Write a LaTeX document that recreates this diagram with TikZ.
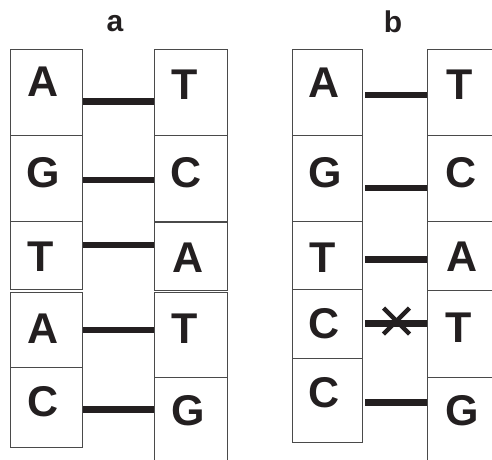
\documentclass[tikz,border=0pt]{standalone}
\usepackage{fontspec}
\setmainfont{Liberation Sans}
\definecolor{ink}{HTML}{231F20}
\definecolor{edge}{HTML}{4A4A4A}
\tikzset{
  cell/.style={draw=edge, line width=1.1pt, rectangle, inner sep=0pt, anchor=north west},
  base/.style={text=ink, inner sep=0pt, anchor=base, font=\fontsize{43}{43}\selectfont\bfseries},
  panel/.style={text=ink, inner sep=0pt, anchor=base, font=\fontsize{30}{30}\selectfont\bfseries},
  bond/.style={draw=ink, line width=6.5pt},
  bondb/.style={bond, shorten <=2pt},
  cut/.style={draw=ink, line width=4.5pt}
}
\begin{document}
\begin{tikzpicture}[x=1pt,y=-1pt]
\useasboundingbox (0,0) rectangle (492,459);
\clip (0,0) rectangle (492,459);

% panel labels
\node[panel] (pa) at (115,31) {a};
\node[panel] (pb) at (393,32) {b};

% ---- strand cells, panel a ----
\node[cell, minimum width=72pt, minimum height=86pt] (la1) at (10,49) {};
\node[cell, minimum width=72pt, minimum height=86pt] (la2) at (10,135) {};
\node[cell, minimum width=72pt, minimum height=68pt] (la3) at (10,221) {};
\node[cell, minimum width=72pt, minimum height=75pt] (la4) at (10,292) {};
\node[cell, minimum width=72pt, minimum height=80pt] (la5) at (10,367) {};

\node[cell, minimum width=73pt, minimum height=86pt] (ra1) at (154,49) {};
\node[cell, minimum width=73pt, minimum height=86pt] (ra2) at (154,135) {};
\node[cell, minimum width=73pt, minimum height=68pt] (ra3) at (154,222) {};
\node[cell, minimum width=73pt, minimum height=85pt] (ra4) at (154,292) {};
\node[cell, minimum width=73pt, minimum height=100pt] (ra5) at (154,377) {};

% ---- strand cells, panel b ----
\node[cell, minimum width=70pt, minimum height=86pt] (lb1) at (292,49) {};
\node[cell, minimum width=70pt, minimum height=86pt] (lb2) at (292,135) {};
\node[cell, minimum width=70pt, minimum height=68pt] (lb3) at (292,221) {};
\node[cell, minimum width=70pt, minimum height=69pt] (lb4) at (292,289) {};
\node[cell, minimum width=70pt, minimum height=84pt] (lb5) at (292,358) {};

\node[cell, minimum width=90pt, minimum height=86pt] (rb1) at (427,49) {};
\node[cell, minimum width=90pt, minimum height=86pt] (rb2) at (427,135) {};
\node[cell, minimum width=90pt, minimum height=69pt] (rb3) at (427,221) {};
\node[cell, minimum width=90pt, minimum height=87pt] (rb4) at (427,290) {};
\node[cell, minimum width=90pt, minimum height=100pt] (rb5) at (427,377) {};

% ---- bases, panel a ----
\node[base] (ta1) at (43,96) {A};
\node[base] (ta2) at (43,187) {G};
\node[base] (ta3) at (41,271) {T};
\node[base] (ta4) at (43,343) {A};
\node[base] (ta5) at (43,416) {C};

\node[base] (sa1) at (185,99) {T};
\node[base] (sa2) at (186,187) {C};
\node[base] (sa3) at (188,272) {A};
\node[base] (sa4) at (185,343) {T};
\node[base] (sa5) at (188,425) {G};

% ---- bases, panel b ----
\node[base] (tb1) at (324,97) {A};
\node[base] (tb2) at (325,187) {G};
\node[base] (tb3) at (323,272) {T};
\node[base] (tb4) at (324,338) {C};
\node[base] (tb5) at (324,407) {C};

\node[base] (sb1) at (460,99) {T};
\node[base] (sb2) at (461,187) {C};
\node[base] (sb3) at (462,271) {A};
\node[base] (sb4) at (459,342) {T};
\node[base] (sb5) at (462,425) {G};

% ---- hydrogen-bond levels ----
\coordinate (ya1) at (0,101.5);
\coordinate (ya2) at (0,180);
\coordinate (ya3) at (0,245);
\coordinate (ya4) at (0,330);
\coordinate (ya5) at (0,409.5);
\coordinate (yb1) at (0,95);
\coordinate (yb2) at (0,188);
\coordinate (yb3) at (0,259.5);
\coordinate (yb4) at (0,323.5);
\coordinate (yb5) at (0,402.5);

% ---- bonds, panel a ----
\draw[bond] (la1.east |- ya1) -- (ra1.west |- ya1);
\draw[bond] (la2.east |- ya2) -- (ra2.west |- ya2);
\draw[bond] (la3.east |- ya3) -- (ra3.west |- ya3);
\draw[bond] (la4.east |- ya4) -- (ra4.west |- ya4);
\draw[bond] (la5.east |- ya5) -- (ra5.west |- ya5);

% ---- bonds, panel b ----
\draw[bondb] (lb1.east |- yb1) -- (rb1.west |- yb1);
\draw[bondb] (lb2.east |- yb2) -- (rb2.west |- yb2);
\draw[bondb] (lb3.east |- yb3) -- (rb3.west |- yb3);
\draw[bondb] (lb4.east |- yb4) -- (rb4.west |- yb4);
\draw[bondb] (lb5.east |- yb5) -- (rb5.west |- yb5);

% mismatch mark on the C-T pair
\coordinate (xm) at (396.5,321);
\draw[cut] ([shift={(-13,-13)}]xm) -- ([shift={(13,13)}]xm);
\draw[cut] ([shift={(-13,13)}]xm) -- ([shift={(13,-13)}]xm);
\end{tikzpicture}
\end{document}
